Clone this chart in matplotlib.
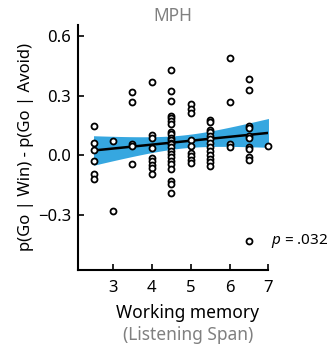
import numpy as np
import matplotlib
matplotlib.use("Agg")
import matplotlib.pyplot as plt

# listening span levels and the go-bias differences per subject
span_levels = [2.5, 3, 3.5, 4, 4.5, 5, 5.5, 6, 6.5, 7]
bias_at_2_5 = [0.15, 0.065, 0.025, -0.03, -0.095, -0.12]
bias_at_3 = [0.075, -0.28]
bias_at_3_5 = [0.32, 0.27, 0.06, 0.045, -0.045]
bias_at_4 = [0.37, 0.105, 0.09, 0.038, -0.012, -0.028, -0.05, -0.065, -0.095]
bias_at_4_5 = [0.43, 0.325, 0.275, 0.2, 0.19, 0.175, 0.16, 0.12, 0.11, 0.09, 0.08,
               0.065, 0.055, 0.04, 0.02, 0.005, -0.01, -0.03, -0.045, -0.07,
               -0.13, -0.145, -0.19]
bias_at_5 = [0.26, 0.235, 0.215, 0.08, 0.045, 0.01, -0.005, -0.025, -0.04]
bias_at_5_5 = [0.18, 0.17, 0.13, 0.12, 0.1, 0.085, 0.065, 0.04, 0.02, 0.0,
               -0.02, -0.035, -0.055]
bias_at_6 = [0.49, 0.27, 0.055, 0.04]
bias_at_6_5 = [0.385, 0.33, 0.15, 0.14, 0.1, 0.09, 0.04, 0.03, -0.01, -0.025, -0.43]
bias_at_7 = [0.045]

groups = [bias_at_2_5, bias_at_3, bias_at_3_5, bias_at_4, bias_at_4_5,
          bias_at_5, bias_at_5_5, bias_at_6, bias_at_6_5, bias_at_7]

xs, ys = [], []
for lvl, vals in zip(span_levels, groups):
    xs += [lvl] * len(vals)
    ys += vals
xs = np.array(xs)
ys = np.array(ys)

# linear fit + 95% CI
slope, icpt = np.polyfit(xs, ys, 1)
n = len(xs)
resid = ys - (icpt + slope * xs)
s = np.sqrt(np.sum(resid ** 2) / (n - 2))
sxx = np.sum((xs - xs.mean()) ** 2)
gx = np.linspace(2.5, 7, 100)
gy = icpt + slope * gx
half = 1.99 * s * np.sqrt(1 / n + (gx - xs.mean()) ** 2 / sxx)

plt.rcParams['font.family'] = ['Noto Sans', 'DejaVu Sans']
plt.rcParams['mathtext.fontset'] = 'custom'
plt.rcParams['mathtext.it'] = 'Noto Sans:italic'
fig = plt.figure(figsize=(3.31, 3.49), dpi=100)
ax = fig.add_axes([0.2356, 0.2264, 0.5755, 0.702])

ax.fill_between(gx, gy - half, gy + half, color='#36a7e0', lw=0, zorder=1)
ax.plot(gx, gy, color='black', lw=1.8, zorder=2)
ax.plot(xs, ys, 'o', ms=4.3, mfc='white', mec='black', mew=1.3,
        clip_on=False, zorder=3)

ax.set_xlim(2.1, 7)
ax.set_ylim(-0.575, 0.655)
ax.set_xticks([3, 4, 5, 6, 7])
ax.set_yticks([-0.3, 0, 0.3, 0.6])
ax.set_yticklabels(['\u22120.3', '0.0', '0.3', '0.6'])
ax.tick_params(direction='in', length=4, width=1.2, labelsize=12)
ax.tick_params(axis='x', pad=7)
ax.tick_params(axis='y', pad=5)
for side in ['top', 'right']:
    ax.spines[side].set_visible(False)
for side in ['left', 'bottom']:
    ax.spines[side].set_linewidth(1.5)

ax.set_ylabel('p(Go | Win) - p(Go | Avoid)', fontsize=12, labelpad=3)
ax.text(0.577, -0.176, 'Working memory', transform=ax.transAxes,
        ha='center', va='center', fontsize=12.5)
ax.text(0.577, -0.265, '(Listening Span)', transform=ax.transAxes,
        ha='center', va='center', fontsize=12.5, color='#808080')
ax.set_title('MPH', fontsize=12.5, color='#808080', pad=3)
ax.text(7.06, -0.43, r'$p$ = .032', fontsize=11, va='center', ha='left')

fig.savefig('out.png', dpi=100)
